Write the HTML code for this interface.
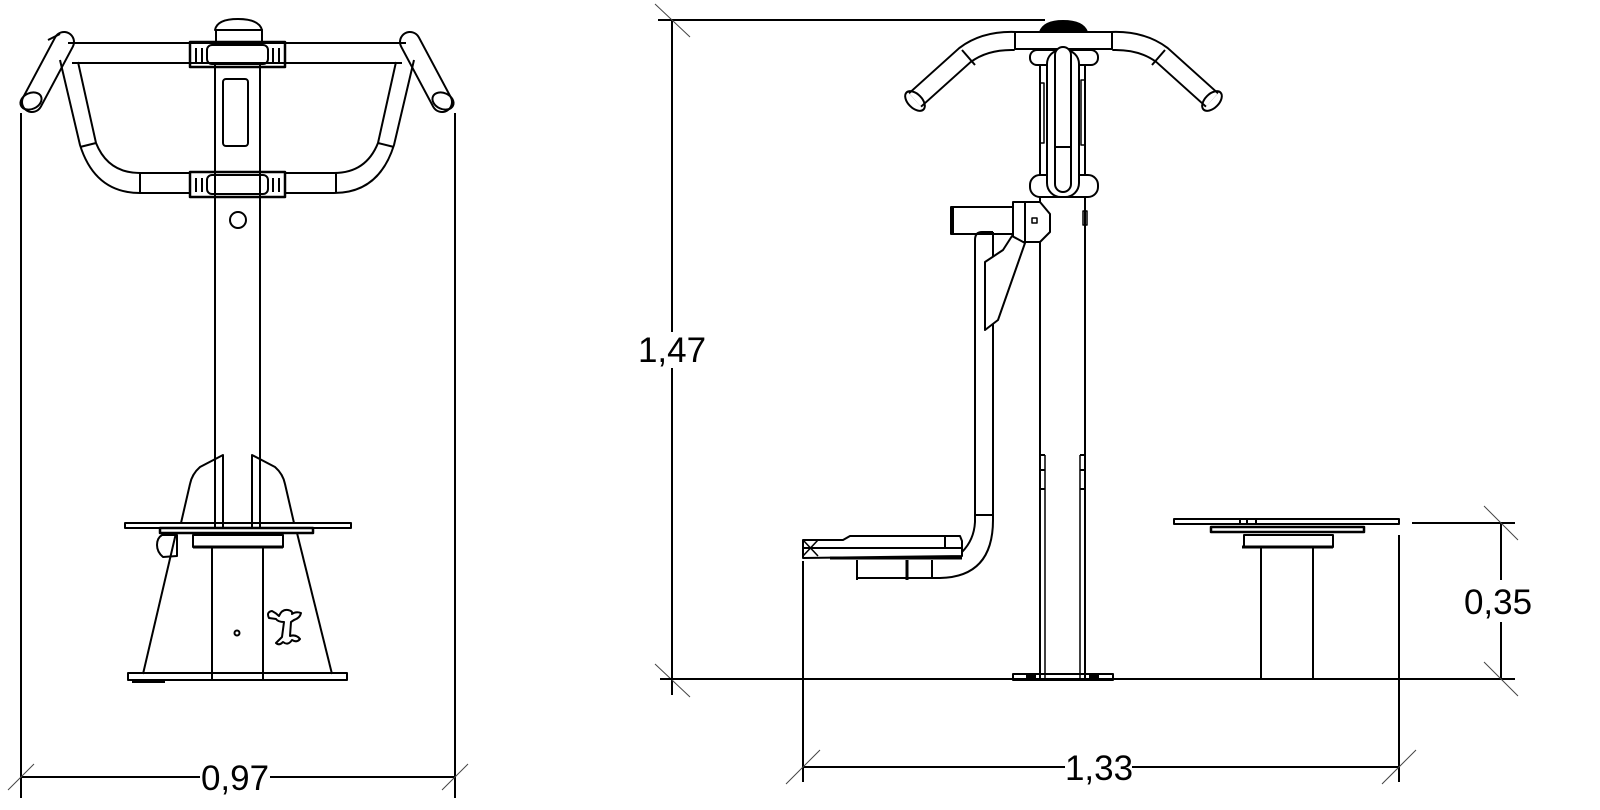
<!DOCTYPE html>
<html><head><meta charset="utf-8"><style>
html,body{margin:0;padding:0;background:#fff;}
svg{display:block;}
text{font-family:"Liberation Sans",Arial,sans-serif;fill:#000;}
</style></head><body>
<svg width="1600" height="810" viewBox="0 0 1600 810" xmlns="http://www.w3.org/2000/svg">
<g fill="none" stroke="#000" stroke-width="2" stroke-linejoin="round">

<!-- ============ LEFT FIGURE ============ -->
<!-- dimension -->
<line x1="21" y1="113" x2="21" y2="798"/>
<line x1="455" y1="113" x2="455" y2="798"/>
<line x1="21" y1="777" x2="200" y2="777"/>
<line x1="270" y1="777" x2="455" y2="777"/>
<line x1="8" y1="790" x2="34" y2="764" stroke-width="1" stroke="#444"/>
<line x1="442" y1="790" x2="468" y2="764" stroke-width="1" stroke="#444"/>

<!-- grips (tubes) -->
<g>
<line x1="64" y1="42" x2="32" y2="102" stroke-width="22" stroke-linecap="round"/>
<line x1="64" y1="42" x2="32" y2="102" stroke-width="18" stroke="#fff" stroke-linecap="round"/>
<ellipse cx="31" cy="101" rx="11" ry="8" transform="rotate(-25 31 101)"/>
<path d="M48 40 L60 34"/>
<line x1="410" y1="42" x2="442" y2="102" stroke-width="22" stroke-linecap="round"/>
<line x1="410" y1="42" x2="442" y2="102" stroke-width="18" stroke="#fff" stroke-linecap="round"/>
<ellipse cx="443" cy="101" rx="11" ry="8" transform="rotate(25 443 101)"/>
</g>
<!-- top bar -->
<line x1="68" y1="43" x2="406" y2="43"/>
<line x1="72" y1="63" x2="402" y2="63"/>
<!-- U sides -->
<path d="M60 60 L80 145 Q95 193 140 193 L190 193"/>
<path d="M78 62 L96 143 Q108 173 140 173 L190 173"/>
<path d="M414 60 L394 145 Q379 193 334 193 L285 193"/>
<path d="M396 62 L378 143 Q366 173 334 173 L285 173"/>
<line x1="80" y1="147" x2="96" y2="143"/>
<line x1="394" y1="147" x2="378" y2="143"/>
<line x1="140" y1="173" x2="140" y2="193"/>
<line x1="336" y1="173" x2="336" y2="193"/>
<!-- pole -->
<line x1="215" y1="65" x2="215" y2="528"/>
<line x1="260" y1="65" x2="260" y2="528"/>
<!-- dome -->
<path d="M215 30 Q217 19 238 19 Q259 19 262 30 Z"/>
<rect x="216" y="30" width="46" height="12"/>
<!-- clamps -->
<rect x="190" y="42" width="95" height="25" stroke-width="2.5"/>
<rect x="207" y="45" width="61" height="19" rx="5"/>
<line x1="196" y1="48" x2="196" y2="62"/><line x1="202" y1="48" x2="202" y2="62"/>
<line x1="273" y1="48" x2="273" y2="62"/><line x1="279" y1="48" x2="279" y2="62"/>
<rect x="190" y="172" width="95" height="25" stroke-width="2.5"/>
<rect x="207" y="175" width="61" height="19" rx="5"/>
<line x1="196" y1="178" x2="196" y2="192"/><line x1="202" y1="178" x2="202" y2="192"/>
<line x1="273" y1="178" x2="273" y2="192"/><line x1="279" y1="178" x2="279" y2="192"/>
<!-- window & hole -->
<rect x="223" y="79" width="25" height="67" rx="3"/>
<circle cx="238" cy="220" r="8"/>
<!-- fins -->
<path d="M223 528 L223 455 L200 467 Q192 474 190 484 L181 523"/>
<path d="M252 528 L252 455 L275 467 Q283 474 285 484 L294 523"/>
<!-- platform -->
<rect x="125" y="523" width="226" height="5"/>
<rect x="160" y="528" width="153" height="5" stroke-width="2.5"/>
<rect x="193" y="535" width="90" height="12"/>
<line x1="193" y1="547" x2="283" y2="547" stroke-width="3"/>
<!-- knob -->
<path d="M162 535 L177 535 L177 556 L163 557 Q157 552 157 545 Q157 538 162 535 Z"/>
<!-- skirt -->
<line x1="176" y1="533" x2="143" y2="674"/>
<line x1="297" y1="533" x2="332" y2="674"/>
<line x1="212" y1="547" x2="212" y2="679"/>
<line x1="263" y1="547" x2="263" y2="679"/>
<rect x="128" y="673" width="219" height="7"/>
<line x1="132" y1="682" x2="165" y2="682"/>
<circle cx="237" cy="633" r="2.5"/>
<!-- frog -->
<path d="M269 618 Q266 612 272 611 Q276 613 279 616 Q282 609 288 610 Q293 611 292 614 Q296 611 301 613 Q300 618 294 620 L291 622 L290 636 Q296 634 300 639 Q297 643 292 640 Q288 646 283 642 Q279 646 276 643 L282 637 L284 622 Q278 622 276 619 Z"/>

<!-- ============ RIGHT FIGURE ============ -->
<!-- dims -->
<line x1="672" y1="20" x2="672" y2="332"/>
<line x1="672" y1="368" x2="672" y2="695"/>
<line x1="658" y1="20" x2="1045" y2="20"/>
<line x1="655" y1="4" x2="690" y2="37" stroke-width="1" stroke="#444"/>
<line x1="655" y1="664" x2="690" y2="697" stroke-width="1" stroke="#444"/>
<line x1="660" y1="679" x2="1515" y2="679"/>
<line x1="1501" y1="523" x2="1501" y2="580"/>
<line x1="1501" y1="622" x2="1501" y2="679"/>
<line x1="1412" y1="523" x2="1515" y2="523"/>
<line x1="1484" y1="506" x2="1518" y2="540" stroke-width="1" stroke="#444"/>
<line x1="1484" y1="662" x2="1518" y2="696" stroke-width="1" stroke="#444"/>
<line x1="803" y1="561" x2="803" y2="782"/>
<line x1="1399" y1="535" x2="1399" y2="782"/>
<line x1="803" y1="767" x2="1065" y2="767"/>
<line x1="1132" y1="767" x2="1399" y2="767"/>
<line x1="786" y1="784" x2="820" y2="750" stroke-width="1" stroke="#444"/>
<line x1="1382" y1="784" x2="1416" y2="750" stroke-width="1" stroke="#444"/>

<!-- handles -->
<path d="M1015 41 Q985 40 965 55 L915 100" stroke-width="20" stroke-linecap="butt"/>
<path d="M1015 41 Q985 40 965 55 L915 100" stroke-width="16" stroke="#fff" stroke-linecap="butt"/>
<path d="M1112 41 Q1142 40 1162 55 L1212 100" stroke-width="20" stroke-linecap="butt"/>
<path d="M1112 41 Q1142 40 1162 55 L1212 100" stroke-width="16" stroke="#fff" stroke-linecap="butt"/>
<ellipse cx="915" cy="101" rx="7" ry="12" transform="rotate(-45 915 101)"/>
<ellipse cx="1212" cy="101" rx="7" ry="12" transform="rotate(45 1212 101)"/>
<line x1="962" y1="50" x2="975" y2="65"/>
<line x1="1165" y1="50" x2="1152" y2="65"/>
<!-- pole -->
<line x1="1040" y1="65" x2="1040" y2="679"/>
<line x1="1085" y1="65" x2="1085" y2="679"/>
<line x1="1045" y1="455" x2="1045" y2="679" stroke-width="1.5"/>
<line x1="1080" y1="455" x2="1080" y2="679" stroke-width="1.5"/>
<line x1="1040" y1="455" x2="1045" y2="455"/><line x1="1080" y1="455" x2="1085" y2="455"/>
<line x1="1040" y1="470" x2="1045" y2="470"/><line x1="1080" y1="470" x2="1085" y2="470"/>
<line x1="1040" y1="489" x2="1045" y2="489"/><line x1="1080" y1="489" x2="1085" y2="489"/>
<rect x="1040" y="83" width="4" height="60" stroke-width="1.5"/>
<rect x="1081" y="80" width="4" height="65" stroke-width="1.5"/>
<rect x="1083" y="211" width="4" height="14" stroke-width="1.5"/>
<!-- dome & top bar -->
<path d="M1040 32 Q1044 21 1063 21 Q1083 21 1087 32 Z" fill="#000"/>
<rect x="1015" y="32" width="97" height="17" fill="#fff"/>
<!-- bolts -->
<rect x="1030" y="50" width="68" height="15" rx="7" fill="#fff"/>
<rect x="1030" y="175" width="68" height="22" rx="10" fill="#fff"/>
<rect x="1047" y="50" width="32" height="147" rx="14" fill="#fff"/>
<rect x="1055" y="47" width="16" height="145" rx="8" fill="#fff"/>
<line x1="1055" y1="147" x2="1071" y2="147"/>
<!-- seat arm -->
<rect x="951" y="207" width="62" height="27" fill="#fff"/>
<line x1="952" y1="207" x2="952" y2="234" stroke-width="4"/>
<path d="M1013 202 L1040 202 L1050 214 L1050 232 L1040 242 L1013 242 Z" fill="#fff"/>
<line x1="1025" y1="202" x2="1025" y2="242"/>
<rect x="1032" y="218" width="5" height="5" stroke-width="1.5"/>
<path d="M975 240 Q975 232 982 232 L993 232"/>
<line x1="975" y1="240" x2="975" y2="515"/>
<line x1="993" y1="232" x2="993" y2="515"/>
<path d="M985 262 L1003 250 L1012 236 L1025 243 L998 320 L985 330 Z" fill="#fff"/>
<line x1="975" y1="515" x2="993" y2="515"/>
<path d="M993 515 L993 520 Q993 577 940 578 L932 578"/>
<path d="M975 515 L975 522 Q974 540 962 552"/>
<!-- seat -->
<path d="M803 540 L843 540 L850 536 L960 536 L962 541 L962 556 L803 558 Z" fill="#fff"/>
<line x1="803" y1="548" x2="962" y2="548"/>
<line x1="803" y1="540" x2="818" y2="556" stroke-width="1.5"/>
<line x1="803" y1="556" x2="818" y2="540" stroke-width="1.5"/>
<line x1="945" y1="537" x2="945" y2="548"/>
<line x1="830" y1="558" x2="962" y2="558" stroke-width="3"/>
<line x1="857" y1="560" x2="857" y2="580"/>
<line x1="907" y1="560" x2="907" y2="580" stroke-width="3"/>
<line x1="932" y1="560" x2="932" y2="578"/>
<line x1="857" y1="578" x2="932" y2="578"/>
<!-- base plates -->
<rect x="1013" y="674" width="100" height="6"/>
<rect x="1027" y="674" width="8" height="6" fill="#000"/>
<rect x="1090" y="674" width="8" height="6" fill="#000"/>
<!-- right step -->
<rect x="1174" y="519" width="225" height="5"/>
<rect x="1211" y="527" width="153" height="5" stroke-width="2.5"/>
<rect x="1244" y="535" width="89" height="12"/>
<line x1="1242" y1="547" x2="1333" y2="547" stroke-width="3"/>
<line x1="1261" y1="547" x2="1261" y2="679"/>
<line x1="1313" y1="547" x2="1313" y2="679"/>
<line x1="1240" y1="519" x2="1240" y2="524"/><line x1="1247" y1="519" x2="1247" y2="524"/><line x1="1256" y1="519" x2="1256" y2="524"/>
</g>

<g font-size="35">
<rect x="201" y="760" width="68" height="34" fill="#fff"/>
<text x="235" y="790" text-anchor="middle">0,97</text>
<rect x="638" y="334" width="70" height="32" fill="#fff"/>
<text x="672" y="362" text-anchor="middle">1,47</text>
<rect x="1465" y="584" width="70" height="34" fill="#fff"/>
<text x="1498" y="614" text-anchor="middle">0,35</text>
<rect x="1066" y="752" width="66" height="32" fill="#fff"/>
<text x="1099" y="780" text-anchor="middle">1,33</text>
</g>
</svg>
</body></html>
